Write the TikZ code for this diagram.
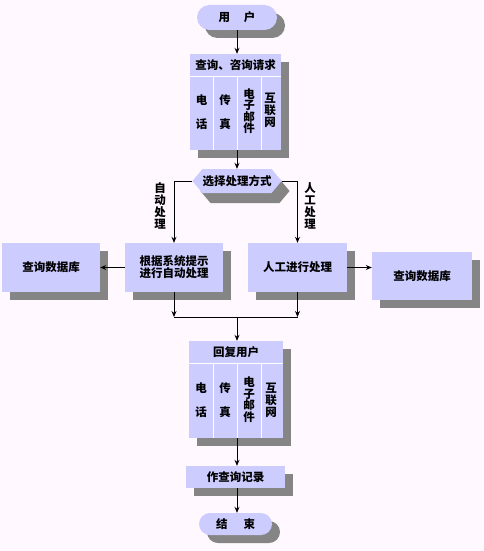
\documentclass[tikz,border=0pt]{standalone}
\usepackage{fontspec}
\newfontfamily\cjk{Noto Sans CJK SC}
\usetikzlibrary{shadows,shapes.symbols,shapes.misc,arrows.meta}
\definecolor{bg}{HTML}{FFF8FF}
\definecolor{boxfill}{HTML}{CCCCFF}
\definecolor{shgray}{HTML}{858585}
\begin{document}
\begin{tikzpicture}[x=1pt,y=-1pt,
  every node/.style={font=\cjk\bfseries\fontsize{11.5}{12}\selectfont, inner sep=0pt, align=center},
  shbox/.style={fill=boxfill, draw=none, drop shadow={shadow xshift=8pt,shadow yshift=-8pt,fill=shgray,opacity=1}},
  rbox/.style={shbox, rectangle},
  term/.style={shbox, rounded rectangle},
  hexa/.style={fill=boxfill, draw=none, signal, signal to=west and east, signal pointer angle=100,
    drop shadow={shadow xshift=8pt,shadow yshift=-10pt,fill=shgray,opacity=1}},
  arr/.style={-{Stealth[length=6pt,width=5pt]}, line width=0.9pt},
  conn/.style={line width=0.9pt},
  cellline/.style={white, line width=1pt}]
\useasboundingbox (0,0) rectangle (483,551);
\fill[bg] (0,0) rectangle (483,551);

% nodes
\node[term, minimum width=80pt, minimum height=25pt] (user) at (237,17.5) {用\hspace{14pt}户};
\node[rbox, minimum width=91pt, minimum height=96pt] (query) at (235.5,102) {};
\node[hexa, minimum width=87pt, minimum height=24pt] (hex) at (237,181) {选择处理方式};
\node[rbox, minimum width=98pt, minimum height=49pt] (auto) at (174,267.5) {根据系统提示\\进行自动处理};
\node[rbox, minimum width=99pt, minimum height=49pt] (manual) at (297.5,267.5) {人工进行处理};
\node[rbox, minimum width=98pt, minimum height=49pt] (dbL) at (51,267.5) {查询数据库};
\node[rbox, minimum width=100pt, minimum height=48pt] (dbR) at (422,276) {查询数据库};
\node[rbox, minimum width=94pt, minimum height=97pt] (reply) at (236,389.5) {};
\node[rbox, minimum width=99pt, minimum height=22pt] (record) at (235.5,477) {作查询记录};
\node[term, minimum width=73pt, minimum height=22pt] (end) at (235.5,524) {结\hspace{16pt}束};

% query box contents
\draw[cellline] (190,76) -- (281,76);
\draw[cellline] (213,76) -- (213,150);
\draw[cellline] (237,76) -- (237,150);
\draw[cellline] (261,76) -- (261,150);
\node (qh) at (235.5,65.5) {查询、咨询请求};
\node (q1) at (201.5,112) {电\\[12pt]话};
\node (q2) at (225,112) {传\\[12pt]真};
\node[font=\cjk\bfseries\fontsize{11.5}{11.5}\selectfont] (q3) at (249,111) {电\\子\\邮\\件};
\node (q4) at (270,110.5) {互\\联\\网};

% reply box contents
\draw[cellline] (189,363) -- (283,363);
\draw[cellline] (213,363) -- (213,438);
\draw[cellline] (237,363) -- (237,438);
\draw[cellline] (261,363) -- (261,438);
\node (rh) at (236,352) {回复用户};
\node (r1) at (201,400.5) {电\\[12pt]话};
\node (r2) at (225,400.5) {传\\[12pt]真};
\node[font=\cjk\bfseries\fontsize{11.5}{11.5}\selectfont] (r3) at (249,399.5) {电\\子\\邮\\件};
\node (r4) at (271,400) {互\\联\\网};

% labels
\node (la) at (160,205.5) {自\\动\\处\\理};
\node (lm) at (310,205.5) {人\\工\\处\\理};

% connectors
\coordinate (jl) at (174,317);
\coordinate (jr) at (297.5,317);
\coordinate (jm) at (237,317);
\draw[arr] (user.south) -- (user.south |- query.north);
\draw[arr] (hex.north |- query.south) -- (hex.north);
\draw[arr] (hex.west) -| (auto.north);
\draw[arr] (hex.east) -| (manual.north);
\draw[arr] (auto.west) -- (auto.west -| dbL.east);
\draw[arr] (manual.east) -- (manual.east -| dbR.west);
\draw[arr] (auto.south) -- (jl);
\draw[arr] (manual.south) -- (jr);
\draw[conn] (jl) -- (jr);
\draw[arr] (jm) -- (jm |- reply.north);
\draw[arr] (jm |- reply.south) -- (jm |- record.north);
\draw[arr] (jm |- record.south) -- (jm |- end.north);
\end{tikzpicture}
\end{document}
